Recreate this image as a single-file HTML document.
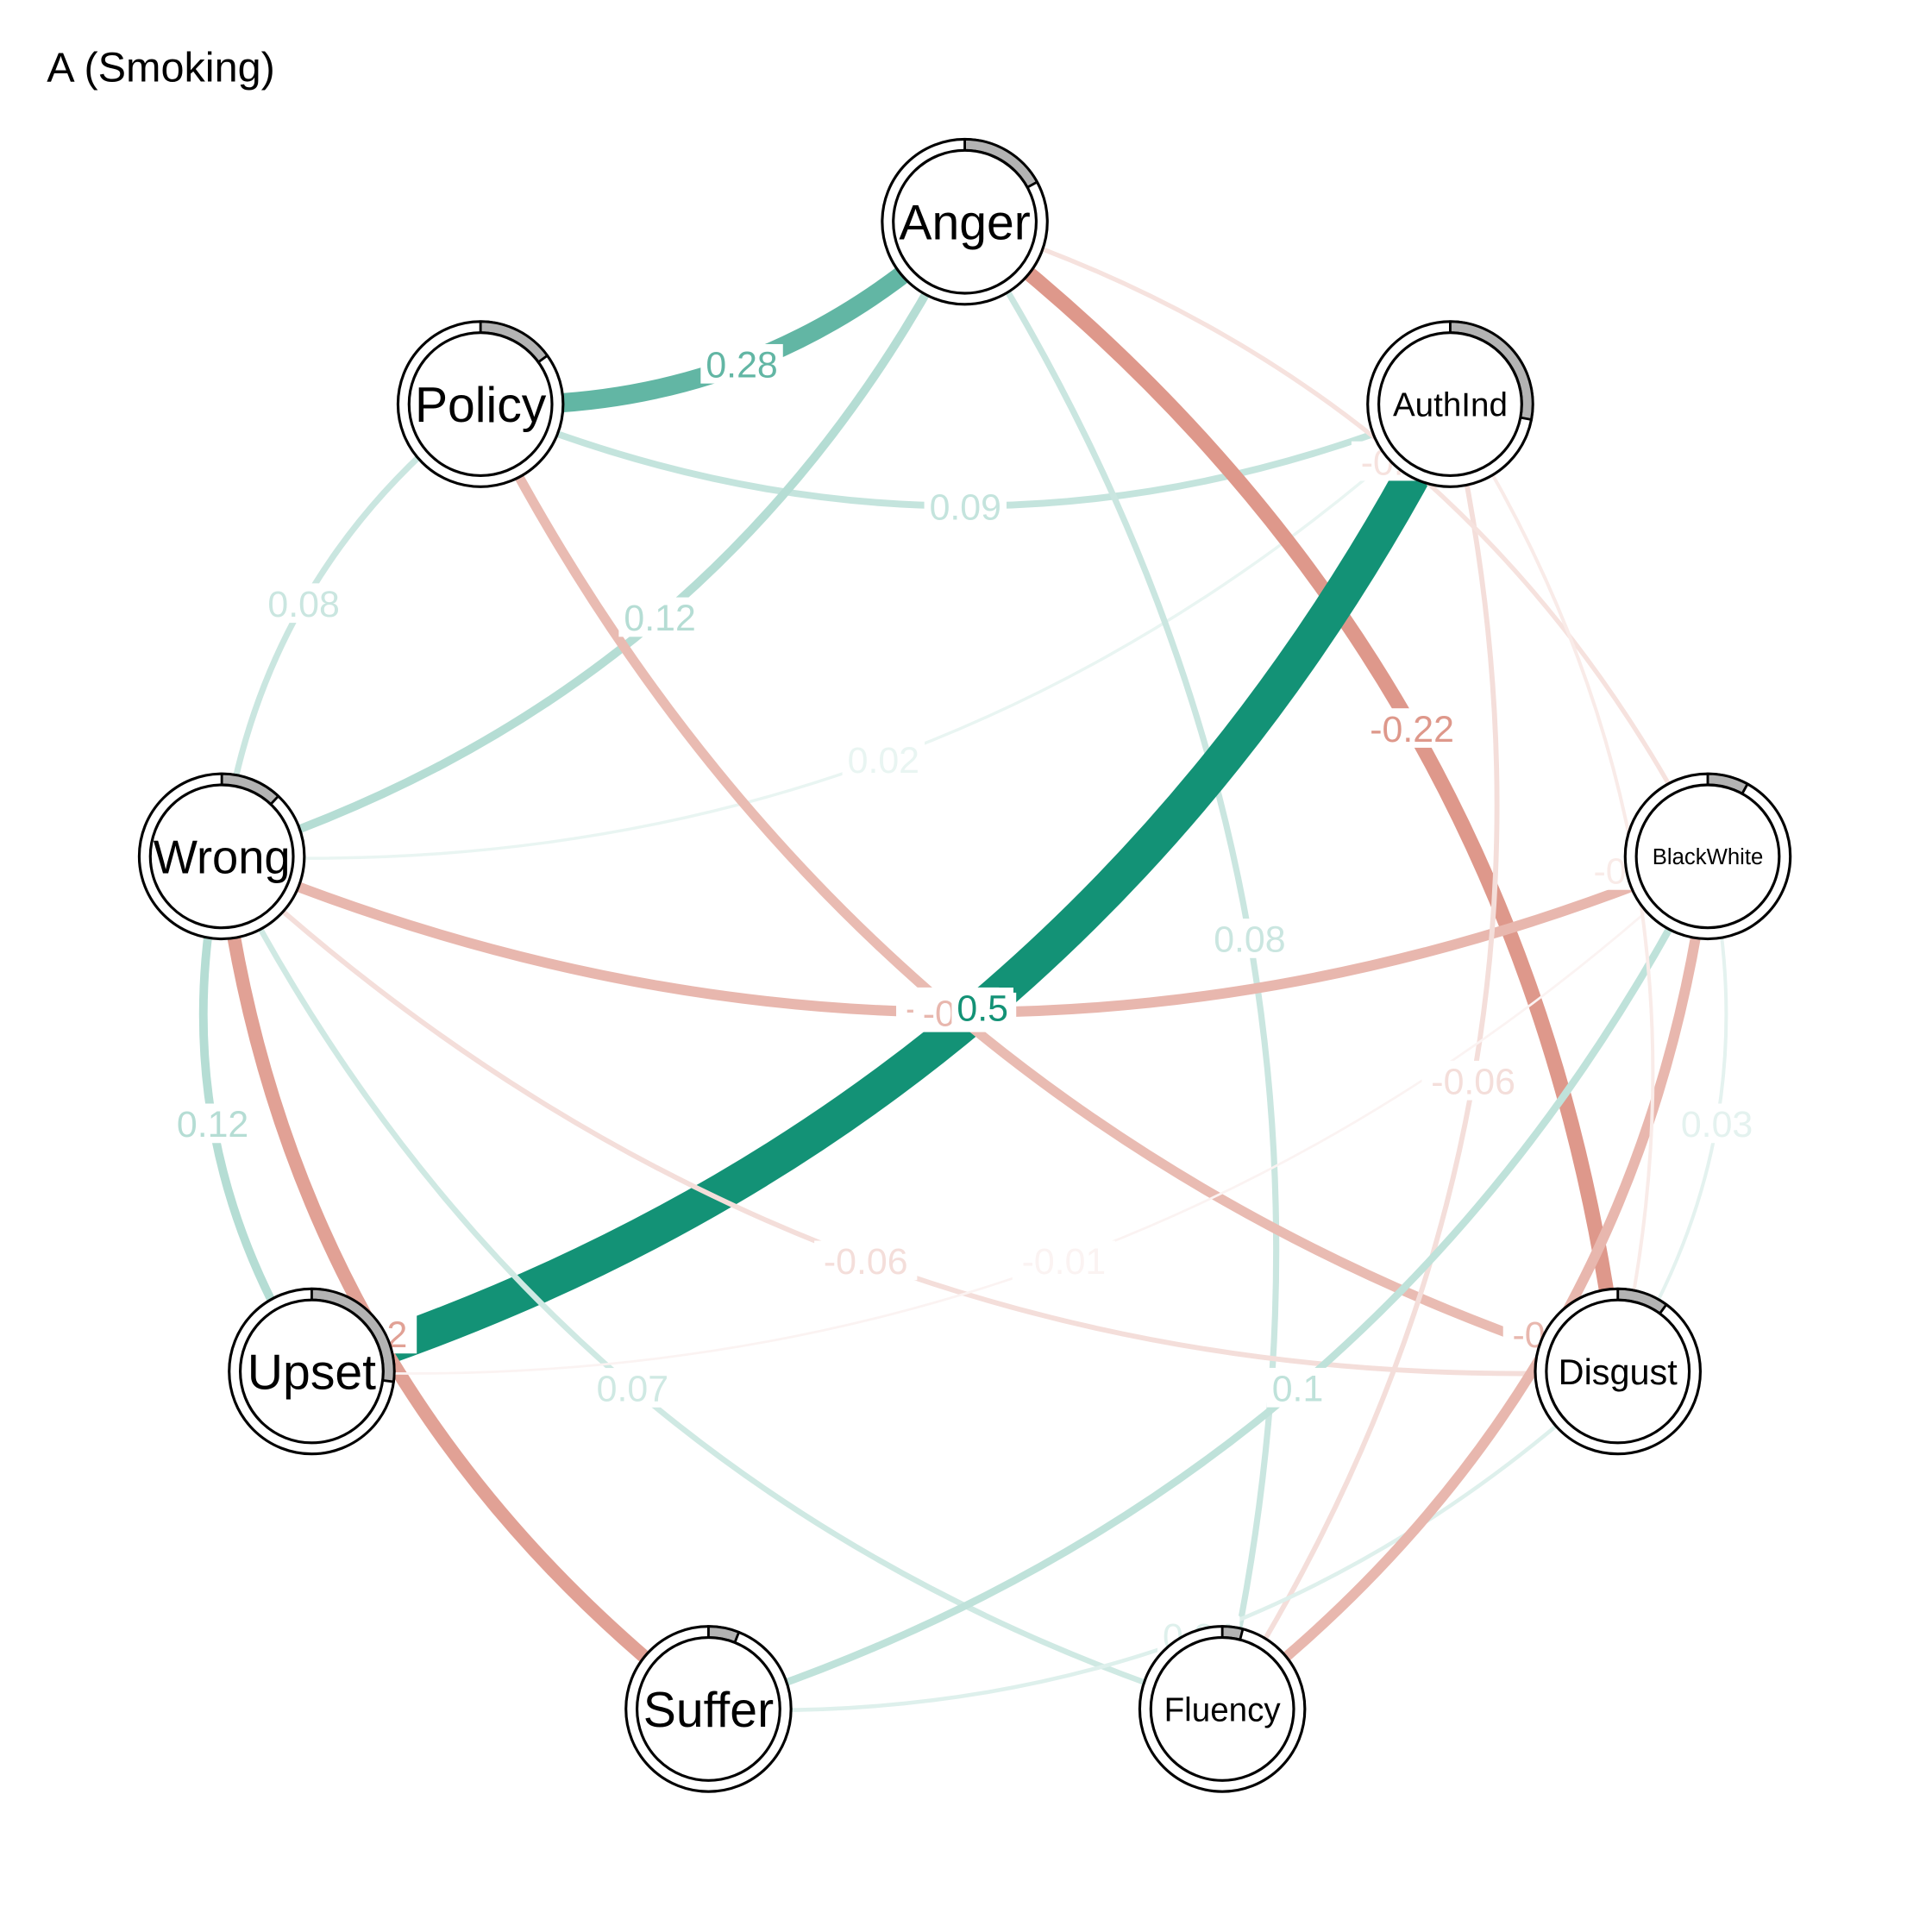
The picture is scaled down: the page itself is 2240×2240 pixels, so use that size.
<!DOCTYPE html>
<html><head><meta charset="utf-8"><style>
html,body{margin:0;padding:0;background:#fff;}
svg{display:block;font-family:"Liberation Sans",Arial,sans-serif;}
</style></head><body>
<svg id="chart" width="2240" height="2240" viewBox="0 0 1568 1568" xmlns="http://www.w3.org/2000/svg">
<text x="38" y="66" font-size="34" fill="#000">A (Smoking)</text>
<g id="edges"></g>
<g id="nodes"></g>
</svg>
<script>
const nodeNames = ["Anger","Policy","AuthInd","Wrong","BlackWhite","Upset","Disgust","Suffer","Fluency"];
const nodeX = [783,390,1177,180,1386,253,1313,575,992];
const nodeY = [180,328,328,695,695,1113,1113,1387,1387];
const nodeFont = [40,40,27,38,18,40,29,40,27];
const nodePie = [0.17,0.15,0.28,0.12,0.08,0.27,0.10,0.06,0.04];
const edgeFrom = ["Anger","AuthInd","Anger","Wrong","AuthInd","Anger","Anger","AuthInd","BlackWhite","Disgust","AuthInd","Upset","Suffer","Fluency","Disgust","BlackWhite","BlackWhite","Disgust","BlackWhite","Anger","AuthInd","BlackWhite"];
const edgeTo   = ["Policy","Policy","Wrong","Policy","Wrong","Fluency","Disgust","Upset","Wrong","Policy","Fluency","Wrong","Wrong","Wrong","Wrong","Upset","Suffer","Suffer","Fluency","BlackWhite","Disgust","Disgust"];
const edgeWeight = [0.28,0.09,0.12,0.08,0.02,0.08,-0.22,0.5,-0.15,-0.14,-0.06,0.12,-0.2,0.07,-0.06,-0.01,0.1,0.04,-0.15,-0.05,-0.03,0.03];
const edgeLabel = ["0.28","0.09","0.12","0.08","0.02","0.08","-0.22","0.5","-0.15","-0.14","-0.06","0.12","-0.2","0.07","-0.06","-0.01","0.1","0.04","-0.15","-0.05","-0.03","0.03"];

const NS="http://www.w3.org/2000/svg";
const maxW=0.5, curv=0.21;
function mk(t,a){const e=document.createElementNS(NS,t);for(const k in a)e.setAttribute(k,a[k]);return e;}
function idx(n){return nodeNames.indexOf(n);}
function edgeColor(w){
  const r=Math.abs(w)/maxW;
  const a=Math.min(1,w>0?0.05+1.1*r:0.05+1.5*r);
  const base=w>0?[19,146,118]:[209,110,92];
  const c=base.map(v=>Math.round(255-(255-v)*a));
  return "rgb("+c.join(",")+")";
}
function edgeWidth(w){const a=Math.abs(w);return 1.5+42*a+28*a*a;}
const eg=document.getElementById("edges");
const labels=[];
for(let i=0;i<edgeWeight.length;i++){
  const a=idx(edgeFrom[i]),b=idx(edgeTo[i]);
  const x1=nodeX[a],y1=nodeY[a],x2=nodeX[b],y2=nodeY[b];
  const dx=x2-x1,dy=y2-y1,L=Math.hypot(dx,dy);
  const px=dy/L,py=-dx/L;
  const cx=(x1+x2)/2+px*curv*L,cy=(y1+y2)/2+py*curv*L;
  const col=edgeColor(edgeWeight[i]);
  const p=mk("path",{d:`M${x1},${y1} Q${cx},${cy} ${x2},${y2}`,fill:"none",stroke:col,"stroke-width":edgeWidth(edgeWeight[i]).toFixed(1)});
  
  
  eg.appendChild(p);
  labels.push({x:(x1+x2)/2+px*curv*L/2,y:(y1+y2)/2+py*curv*L/2,t:edgeLabel[i],c:col,w:Math.abs(edgeWeight[i]),n:edgeFrom[i].toLowerCase()+'-'+edgeTo[i].toLowerCase()});
}
labels.sort((p,q)=>p.w-q.w);
for(const l of labels){
  const w=l.t.length*16.7;
  const r=mk("rect",{x:l.x-w/2,y:l.y-16,width:w,height:32,fill:"#fff"});
  
  
  eg.appendChild(r);
  const t=mk("text",{x:l.x,y:l.y+11,"text-anchor":"middle","font-size":30,fill:l.c});
  
  
  t.textContent=l.t;
  eg.appendChild(t);
}
const ng=document.getElementById("nodes");
const R1=67,R0=58;
for(let i=0;i<nodeNames.length;i++){
  const x=nodeX[i],y=nodeY[i];
  const g=mk("g",{});
  
  
  g.appendChild(mk("circle",{cx:x,cy:y,r:R1,fill:"#fff",stroke:"#000","stroke-width":2.2}));
  const ang=nodePie[i]*2*Math.PI;
  const ax=Math.sin(ang),ay=-Math.cos(ang);
  const big=nodePie[i]>0.5?1:0;
  const pie=mk("path",{d:`M${x},${y-R1} A${R1},${R1} 0 ${big} 1 ${x+R1*ax},${y+R1*ay} L${x+R0*ax},${y+R0*ay} A${R0},${R0} 0 ${big} 0 ${x},${y-R0} Z`,fill:"#b3b3b3",stroke:"#000","stroke-width":2});
  
  
  g.appendChild(pie);
  g.appendChild(mk("circle",{cx:x,cy:y,r:R0,fill:"#fff",stroke:"#000","stroke-width":2.2}));
  const t=mk("text",{x:x,y:y+nodeFont[i]*0.36,"text-anchor":"middle","font-size":nodeFont[i],fill:"#000"});
  
  
  t.textContent=nodeNames[i];
  g.appendChild(t);
  ng.appendChild(g);
}
</script>
</body></html>
